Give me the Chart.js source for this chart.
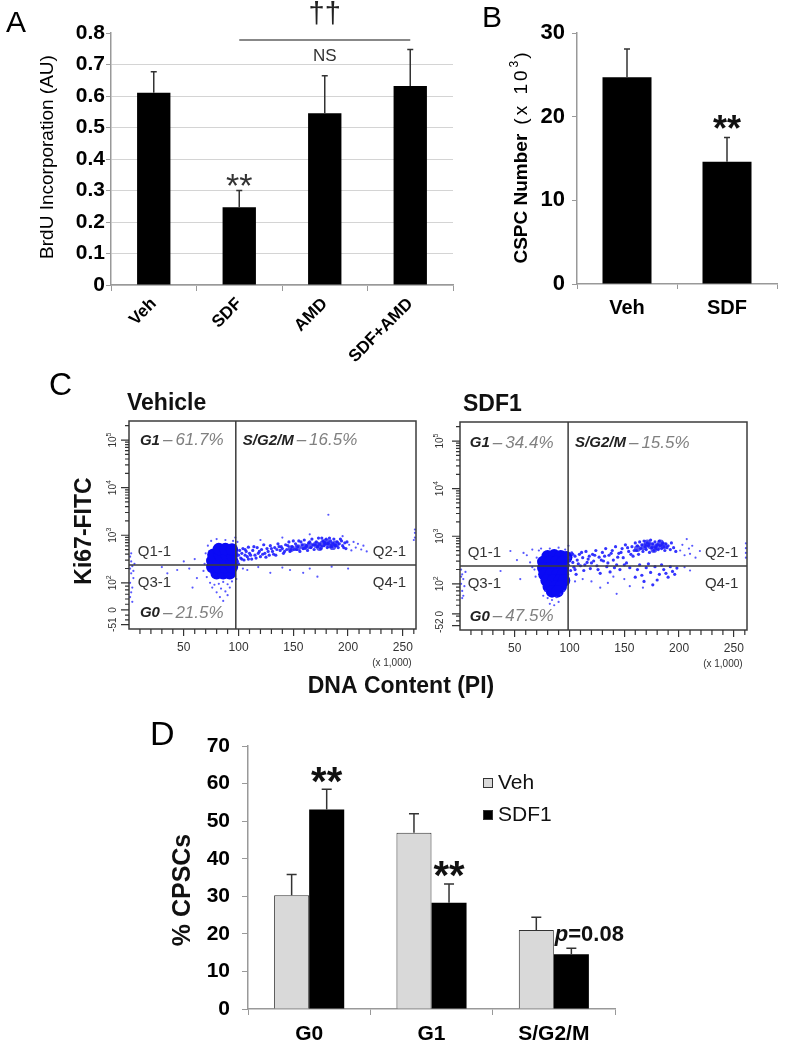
<!DOCTYPE html>
<html><head><meta charset="utf-8">
<script src="https://cdn.jsdelivr.net/npm/chart.js@4.4.1/dist/chart.umd.min.js"></script>
<style>
html,body{margin:0;padding:0;background:#fff;}
#wrap{position:relative;width:787px;height:1048px;overflow:hidden;background:#fff;}
canvas{position:absolute;}
</style></head><body>
<div id="wrap">
<canvas id="cA" width="460" height="385" style="left:0px;top:0px;width:460px;height:385px"></canvas>
<canvas id="cB" width="327" height="330" style="left:460px;top:0px;width:327px;height:330px"></canvas>
<canvas id="cC1" width="500" height="360" style="left:0px;top:340px;width:500px;height:360px"></canvas>
<canvas id="cC2" width="357" height="360" style="left:430px;top:340px;width:357px;height:360px"></canvas>
<canvas id="cD" width="787" height="348" style="left:0px;top:700px;width:787px;height:348px"></canvas>
</div>
<script>
// ---------------- DATA ----------------
const A_categories = ['Veh', 'SDF', 'AMD', 'SDF+AMD'];
const A_values = [0.610, 0.247, 0.545, 0.632];
const A_errors = [0.067, 0.053, 0.119, 0.116];
const A_yTitle = 'BrdU Incorporation (AU)';

const B_categories = ['Veh', 'SDF'];
const B_values = [24.7, 14.6];
const B_errors = [3.4, 2.9];

const D_categories = ['G0', 'G1', 'S/G2/M'];
const D_seriesNames = ['Veh', 'SDF1'];
const D_veh = [30.3, 46.9, 21.0];
const D_vehErr = [5.5, 5.1, 3.4];
const D_sdf = [53.1, 28.3, 14.6];
const D_sdfErr = [5.4, 5.0, 1.6];

// Flow cytometry (x: PI in x1000 units, y: Ki67 axis in decade units of the biexponential display)
const C_xTickLabels = [50, 100, 150, 200, 250];
const C_xMinorTicks = [10,20,30,40,60,70,80,90,110,120,130,140,160,170,180,190,210,220,230,240,260];
const C_yMajorTicks = [2, 3, 4, 5];
const C_yLinearMinor = [1.22, 1.32, 1.55, 1.66, 1.76, 1.85, 1.93];
const C_vehYTickLabels = ['-51', '0', '10^2', '10^3', '10^4', '10^5'];
const C_vehYTickValues = [1.12, 1.43, 2, 3, 4, 5];
const C_sdfYTickLabels = ['-52', '0', '10^2', '10^3', '10^4', '10^5'];
const C_sdfYTickValues = [1.12, 1.37, 2, 3, 4, 5];
const C_vehQuadrants = {G1: '61.7%', SG2M: '16.5%', G0: '21.5%'};
const C_sdfQuadrants = {G1: '34.4%', SG2M: '15.5%', G0: '47.5%'};

const C_vehCore = [[80,2.20],[86,2.20],[92,2.20],[76,2.33],[82,2.33],[88,2.33],[94,2.33],[76,2.46],[82,2.46],[88,2.46],[94,2.46],[77,2.59],[83,2.59],[89,2.59],[94,2.59],[82,2.71],[88,2.71],[94,2.70]];
const C_vehTrailCore = [[148,2.72],[154,2.74],[160,2.76],[165,2.78],[171,2.80],[174,2.74],[177,2.82],[180,2.86],[183,2.80],[186,2.76],[189,2.82]];
const C_vehDense = [[99,2.45],[100,2.58],[101,2.68],[102,2.52],[103,2.62],[104,2.72],[105,2.48],[106,2.58],[107,2.66],[108,2.55],[109,2.75],[110,2.62],
 [112,2.50],[113,2.68],[115,2.58],[117,2.74],[118,2.62],[120,2.55],[121,2.70],[123,2.80],[124,2.62],[126,2.72],[128,2.58],[129,2.78],[131,2.66],[133,2.74],[134,2.58],[136,2.82],[138,2.68],[139,2.76],[141,2.62],[143,2.80],[144,2.70],[146,2.86],[147,2.66],[149,2.76],
 [151,2.70],[152,2.82],[154,2.76],[155,2.88],[156,2.66],[158,2.80],[159,2.72],[160,2.90],[162,2.78],[163,2.68],[164,2.84],[166,2.74],[167,2.92],[168,2.80],[169,2.70],[171,2.86],[172,2.76],[173,2.94],[174,2.82],[175,2.72],[177,2.88],[178,2.78],[179,2.84],[180,2.92],[181,2.74],[182,2.82],[184,2.88],[185,2.76],[186,2.84],[187,2.92],[188,2.80],[190,2.86],[191,2.74],[192,2.82],[194,2.88],[195,2.78],[197,2.84],[198,2.72],
 [100,2.40],[103,2.50],[106,2.70],[109,2.50],[111,2.58],[114,2.76],[116,2.52],[119,2.66],[122,2.60],[125,2.54],[127,2.66],[130,2.72],[132,2.60],[135,2.70],[137,2.76],[140,2.72],[142,2.66],[145,2.78],[148,2.70],[150,2.88],
 [153,2.70],[157,2.86],[161,2.74],[165,2.86],[170,2.80],[176,2.94],[183,2.94],[189,2.78],[193,2.92],[196,2.74],[199,2.86]];
const C_vehSparse = [[201,2.80],[203,2.68],[205,2.86],[207,2.74],[209,2.82],[212,2.70],[214,2.78],[217,2.66],
 [120,2.90],[140,2.95],[165,3.02],[182,3.43],[195,2.98],
 [104,2.30],[108,2.27],[118,2.33],[129,2.21],[140,2.32],[147,2.27],[159,2.21],[165,2.30],[172,2.13],[185,2.34],[200,2.30],
 [70,2.62],[69,2.40],[68,2.25],[71,2.12],[72,2.78],[75,2.88],[80,2.92],[88,2.90],[95,2.88],[97,2.95],[99,2.86],[98,2.08],
 [74,2.00],[78,1.96],[82,1.98],[86,2.02],[90,1.97],[94,2.03],[76,1.90],[84,1.88],[92,1.90],[80,1.80],[88,1.82],[83,1.70],[90,1.74],[86,1.62],
 [55,2.30],[60,2.50],[62,2.10],[44,2.27],[50,2.45],[58,1.90],[30,2.33],[35,2.20],
 [1,2.55],[2,2.45],[3,2.35],[1,2.30],[2,2.20],[4,2.10],[1,2.00],[3,1.90],[2,1.80],[1,1.70],[3,1.60],[5,2.40],[2,2.62],[4,2.25],
 [261,2.95],[261,3.05],[261,3.12],[260,2.90]];

const C_sdfCore = [[80,2.58],[86,2.60],[92,2.58],[97,2.56],[76,2.46],[82,2.46],[88,2.46],[94,2.46],[76,2.33],[82,2.33],[88,2.33],[94,2.33],[77,2.20],[83,2.20],[89,2.20],[94,2.20],[79,2.07],[85,2.07],[91,2.07],[95,2.07],[81,1.94],[87,1.94],[92,1.94],[84,1.84],[89,1.84]];
const C_sdfTrailCore = [[162,2.74],[168,2.78],[171,2.86],[174,2.80],[177,2.72],[180,2.78],[183,2.86],[186,2.80]];
const C_sdfDense = [[99,2.40],[100,2.55],[101,2.28],[102,2.65],[103,2.45],[104,2.35],[105,2.58],[106,2.20],[107,2.50],[109,2.62],[110,2.38],[112,2.55],[113,2.28],[115,2.68],[116,2.45],[118,2.58],[119,2.32],[121,2.62],[122,2.48],[124,2.70],[125,2.38],[127,2.56],[128,2.22],[130,2.66],
 [131,2.48],[133,2.74],[134,2.36],[136,2.60],[137,2.25],[139,2.70],[140,2.50],[142,2.78],[143,2.40],[145,2.64],[146,2.30],[148,2.74],[149,2.55],[151,2.82],[152,2.44],[154,2.68],[155,2.34],[157,2.78],[158,2.58],[160,2.86],
 [161,2.70],[162,2.80],[163,2.62],[164,2.88],[165,2.74],[166,2.82],[167,2.68],[168,2.90],[169,2.78],[170,2.72],[171,2.86],[172,2.80],[173,2.66],[174,2.92],[175,2.76],[176,2.84],[177,2.70],[178,2.88],[179,2.78],[180,2.82],[181,2.72],[182,2.90],[183,2.80],[184,2.74],[185,2.86],[186,2.78],[187,2.70],[188,2.84],[189,2.76],[190,2.80],[192,2.72],[193,2.86],[195,2.76],[197,2.68],
 [162,2.30],[166,2.18],[170,2.34],[174,2.24],[178,2.36],[182,2.20],[186,2.30],[190,2.14],[194,2.26],[198,2.33],[168,2.05],[180,2.08],[176,1.98],
 [100,2.48],[103,2.62],[105,2.30],[108,2.42],[111,2.66],[114,2.40],[117,2.52],[120,2.44],[123,2.60],[126,2.30],[129,2.50],[132,2.58],[135,2.44],[138,2.64],[141,2.34],[144,2.56],[147,2.66],[150,2.40],[153,2.76],[156,2.62],[159,2.70],
 [164,2.40],[172,2.42],[184,2.40],[192,2.36],[196,2.20],[188,2.22],[160,2.14]];
const C_sdfSparse = [[201,2.70],[203,2.82],[205,2.60],[207,2.94],[209,2.74],[210,2.63],[212,2.80],[215,2.55],[219,2.69],[205,2.35],[210,2.28],
 [128,1.92],[143,1.79],[167,1.92],[120,2.05],[135,2.02],[150,2.10],[155,1.95],[140,2.15],[112,2.10],[105,2.05],
 [61,2.60],[64,2.45],[66,2.72],[68,2.30],[70,2.55],[69,2.15],[72,2.70],[66,2.35],[74,2.74],
 [46,2.69],[37,2.27],[52,2.50],[55,2.10],[58,2.65],
 [76,1.75],[80,1.70],[84,1.66],[88,1.72],[92,1.78],[82,1.58],[86,1.55],[90,1.62],[78,1.85],[95,1.85],
 [82,2.74],[90,2.76],[96,2.72],[99,2.80],
 [1,2.30],[2,2.20],[3,2.10],[1,2.00],[4,1.95],[2,1.85],[3,1.75],[5,2.25],[1,2.15],[2,1.70],
 [261,2.55],[261,2.65],[261,2.75],[261,2.85]];

// ---------------- HELPERS ----------------
const LS = '"Liberation Sans", Arial, sans-serif';
function F(size, weight, style){ return (style||'normal') + ' ' + (weight||'normal') + ' ' + size + 'px ' + LS; }
function drawRuns(ctx, runs, x, y, align){
  const widths = runs.map(r => { if (r.gap !== undefined) return r.gap; ctx.font = r.font; ctx.letterSpacing = r.ls || '0px'; return ctx.measureText(r.t).width; });
  const total = widths.reduce((a,b)=>a+b,0);
  let cx = align === 'right' ? x - total : align === 'center' ? x - total/2 : x;
  ctx.textAlign = 'left';
  runs.forEach((r,i)=>{
    if (r.gap === undefined){ ctx.font = r.font; ctx.letterSpacing = r.ls || '0px'; ctx.fillStyle = r.color || '#000'; ctx.fillText(r.t, cx, y + (r.dy||0)); }
    cx += widths[i];
  });
  ctx.letterSpacing = '0px';
}
function rotText(ctx, fn, cx, cy){ ctx.save(); ctx.translate(cx, cy); ctx.rotate(-Math.PI/2); fn(); ctx.restore(); }
const toXY = arr => arr.map(p => ({x:p[0], y:p[1]}));

const errorBars = {
  id:'errorBars',
  afterDatasetsDraw(chart, args, o){
    const ctx = chart.ctx, ys = chart.scales.y;
    chart.data.datasets.forEach((ds, di)=>{
      if (!ds.errors) return;
      const meta = chart.getDatasetMeta(di);
      meta.data.forEach((bar, i)=>{
        const yt = ys.getPixelForValue(ds.data[i] + ds.errors[i]);
        ctx.save(); ctx.strokeStyle = o.color; ctx.lineWidth = o.width;
        ctx.beginPath(); ctx.moveTo(bar.x, bar.y); ctx.lineTo(bar.x, yt);
        ctx.moveTo(bar.x - o.cap, yt); ctx.lineTo(bar.x + o.cap, yt); ctx.stroke(); ctx.restore();
      });
    });
  }
};

const baseOpts = { animation:false, responsive:false, devicePixelRatio:1, events:[] };

// ---------------- PANEL A ----------------
new Chart(document.getElementById('cA'), {
  type:'bar',
  data:{ labels:A_categories, datasets:[{ data:A_values, errors:A_errors, backgroundColor:'#000', categoryPercentage:1, barPercentage:0.39 }]},
  options:Object.assign({}, baseOpts, {
    layout:{padding:{left:0, right:7, top:33, bottom:0}},
    plugins:{legend:{display:false}, tooltip:{enabled:false}, errorBars:{color:'#333', width:1.5, cap:3}},
    scales:{
      x:{ grid:{display:true, drawOnChartArea:false, offset:true, color:'#999', tickLength:6}, border:{display:true, color:'#999', width:1.5},
          ticks:{font:{family:LS, size:17, weight:'bold'}, color:'#000', minRotation:45, maxRotation:45, padding:3, autoSkip:false},
          afterFit(s){ s.height = 100; } },
      y:{ min:0, max:0.8, grid:{color:(c)=> (c.tick && Math.abs(c.tick.value-0.8)<1e-6) ? 'rgba(0,0,0,0)' : '#d4d4d4', tickColor:'#999', tickLength:5, lineWidth:1},
          border:{display:true, color:'#999', width:1.5},
          ticks:{stepSize:0.1, font:{family:LS, size:21, weight:'bold'}, color:'#000', padding:1, callback:(v)=> (Math.round(v*10)/10).toString()},
          afterFit(s){ s.width = 111; } }
    }
  }),
  plugins:[errorBars, {
    id:'annA',
    afterDraw(chart){
      const {ctx, scales:{y}} = chart; const meta = chart.getDatasetMeta(0);
      ctx.save();
      ctx.fillStyle = '#000'; ctx.textBaseline = 'alphabetic'; ctx.textAlign = 'left';
      ctx.font = F(30); ctx.fillText('A', 6, 32);
      rotText(ctx, ()=>{ ctx.font = F(19); ctx.textAlign='center'; ctx.textBaseline='middle'; ctx.fillStyle='#000'; ctx.fillText(A_yTitle, 0, 0); }, 48, 157);
      // ** above SDF
      const s = meta.data[1]; const et = y.getPixelForValue(A_values[1] + A_errors[1]);
      ctx.font = F(34); ctx.fillStyle = '#333'; ctx.textAlign = 'center'; ctx.textBaseline = 'alphabetic';
      ctx.fillText('**', s.x, et - 12.5 + 0.57*34);
      // significance bracket
      const x1 = meta.data[1].x, x2 = meta.data[3].x, ly = y.getPixelForValue(0.778);
      ctx.strokeStyle = '#888'; ctx.lineWidth = 2; ctx.beginPath(); ctx.moveTo(x1, ly); ctx.lineTo(x2, ly); ctx.stroke();
      ctx.fillStyle = '#222'; ctx.font = F(29); ctx.fillText('\u2020\u2020', (x1+x2)/2, ly - 17);
      ctx.fillStyle = '#333'; ctx.font = F(17); ctx.fillText('NS', (x1+x2)/2, ly + 21);
      ctx.restore();
    }
  }]
});

// ---------------- PANEL B ----------------
new Chart(document.getElementById('cB'), {
  type:'bar',
  data:{ labels:B_categories, datasets:[{ data:B_values, errors:B_errors, backgroundColor:'#000', categoryPercentage:1, barPercentage:0.49 }]},
  options:Object.assign({}, baseOpts, {
    layout:{padding:{left:0, right:10, top:33, bottom:0}},
    plugins:{legend:{display:false}, tooltip:{enabled:false}, errorBars:{color:'#333', width:1.5, cap:3}},
    scales:{
      x:{ grid:{display:true, drawOnChartArea:false, offset:true, color:'#999', tickLength:5}, border:{display:true, color:'#999', width:1.5},
          ticks:{font:{family:LS, size:20, weight:'bold'}, color:'#000', padding:7, maxRotation:0},
          afterFit(s){ s.height = 46; } },
      y:{ min:0, max:30, grid:{display:true, drawOnChartArea:false, color:'#999', tickLength:5}, border:{display:true, color:'#999', width:1.5},
          ticks:{stepSize:10, font:{family:LS, size:22, weight:'bold'}, color:'#000', padding:7},
          afterFit(s){ s.width = 117; } }
    }
  }),
  plugins:[errorBars, {
    id:'annB',
    afterDraw(chart){
      const {ctx, scales:{y}} = chart; const meta = chart.getDatasetMeta(0);
      ctx.save();
      ctx.fillStyle='#000'; ctx.textBaseline='alphabetic'; ctx.textAlign='left'; ctx.font=F(30); ctx.fillText('B', 22, 27);
      rotText(ctx, ()=>{
        ctx.textBaseline='middle';
        drawRuns(ctx, [
          {t:'CSPC Number', font:F(19,'bold'), color:'#000'}, {gap:9},
          {t:'(x 10', font:F(19), color:'#000', ls:'3px'},
          {t:'3', font:F(12), color:'#000', dy:-7}, {gap:2},
          {t:')', font:F(19), color:'#000'}
        ], 0, 0, 'center');
      }, 62, 158);
      const s = meta.data[1]; const et = y.getPixelForValue(B_values[1] + B_errors[1]);
      ctx.font = F(36,'bold'); ctx.fillStyle='#111'; ctx.textAlign='center'; ctx.textBaseline='alphabetic';
      ctx.fillText('**', s.x, et - 17.5 + 0.57*36);
      ctx.restore();
    }
  }]
});

// ---------------- PANEL C ----------------
function drawRotTick(ctx, label, cx, cy){
  rotText(ctx, ()=>{
    const parts = label.split('^');
    ctx.textBaseline='middle'; ctx.textAlign='left'; ctx.fillStyle='#333';
    ctx.font = F(10); const wb = ctx.measureText(parts[0]).width;
    let we = 0; if (parts[1]) { ctx.font = F(7); we = ctx.measureText(parts[1]).width; }
    const x0 = -(wb+we)/2;
    ctx.font = F(10); ctx.fillText(parts[0], x0, 0);
    if (parts[1]) { ctx.font = F(7); ctx.fillText(parts[1], x0+wb, -4); }
  }, cx, cy);
}
const flowPlugin = {
  id:'flow',
  afterDatasetsDraw(chart, args, o){
    const {ctx, chartArea:ca, scales:{x, y}} = chart;
    ctx.save();
    ctx.strokeStyle = '#3c3c3c'; ctx.lineWidth = 1.5;
    ctx.strokeRect(ca.left, ca.top, ca.right-ca.left, ca.bottom-ca.top);
    const vx = x.getPixelForValue(o.gateX), hy = y.getPixelForValue(o.gateY);
    ctx.beginPath(); ctx.moveTo(vx, ca.top); ctx.lineTo(vx, ca.bottom); ctx.moveTo(ca.left, hy); ctx.lineTo(ca.right, hy); ctx.stroke();
    // ticks
    ctx.lineWidth = 1.2; ctx.strokeStyle = '#333'; ctx.beginPath();
    C_xMinorTicks.forEach(v => { const p = x.getPixelForValue(v); ctx.moveTo(p, ca.bottom); ctx.lineTo(p, ca.bottom + 5); });
    C_yMajorTicks.forEach(v => { const p = y.getPixelForValue(v); ctx.moveTo(ca.left - 8, p); ctx.lineTo(ca.left, p); });
    o.yLabelValues.slice(0,2).forEach(v => { const p = y.getPixelForValue(v); ctx.moveTo(ca.left - 8, p); ctx.lineTo(ca.left, p); });
    C_yMajorTicks.forEach(d => { [2,3,4,5,6,7,8,9].forEach(k => { const v = d + Math.log10(k); if (v <= y.max) { const p = y.getPixelForValue(v); ctx.moveTo(ca.left - 4, p); ctx.lineTo(ca.left, p); } }); });
    C_yLinearMinor.forEach(v => { const p = y.getPixelForValue(v); ctx.moveTo(ca.left - 4, p); ctx.lineTo(ca.left, p); });
    ctx.stroke();
    o.yLabels.forEach((lab, i) => drawRotTick(ctx, lab, ca.left - o.yLabelOffset, y.getPixelForValue(o.yLabelValues[i])));
    // (x 1,000)
    ctx.fillStyle = '#333'; ctx.font = F(10); ctx.textAlign = 'center'; ctx.textBaseline = 'middle';
    ctx.fillText('(x 1,000)', x.getPixelForValue(240), ca.bottom + 34);
    // quadrant labels
    ctx.textBaseline = 'middle';
    const q = o.quad;
    const gl = o.qLeft, gr = o.qRight;
    drawRuns(ctx, [{t:'G1', font:F(15,'bold','italic'), color:'#222'}, {gap:3}, {t:'\u2013', font:F(17,'normal','italic'), color:'#808080'}, {gap:3}, {t:q.G1, font:F(17,'normal','italic'), color:'#808080'}], x.getPixelForValue(gl), y.getPixelForValue(o.qTop));
    drawRuns(ctx, [{t:'S/G2/M', font:F(15,'bold','italic'), color:'#222'}, {gap:3}, {t:'\u2013', font:F(17,'normal','italic'), color:'#808080'}, {gap:3}, {t:q.SG2M, font:F(17,'normal','italic'), color:'#808080'}], vx + 7, y.getPixelForValue(o.qTop));
    drawRuns(ctx, [{t:'G0', font:F(15,'bold','italic'), color:'#222'}, {gap:3}, {t:'\u2013', font:F(17,'normal','italic'), color:'#808080'}, {gap:3}, {t:q.G0, font:F(17,'normal','italic'), color:'#808080'}], x.getPixelForValue(gl), y.getPixelForValue(o.qBottom));
    const qf = F(15);
    drawRuns(ctx, [{t:'Q1-1', font:qf, color:'#333'}], x.getPixelForValue(gl - 2), y.getPixelForValue(2.656));
    drawRuns(ctx, [{t:'Q3-1', font:qf, color:'#333'}], x.getPixelForValue(gl - 2), y.getPixelForValue(2.0));
    drawRuns(ctx, [{t:'Q2-1', font:qf, color:'#333'}], x.getPixelForValue(gr), y.getPixelForValue(2.656), 'right');
    drawRuns(ctx, [{t:'Q4-1', font:qf, color:'#333'}], x.getPixelForValue(gr), y.getPixelForValue(2.0), 'right');
    // title
    drawRuns(ctx, [{t:o.title, font:F(23,'bold'), color:'#111'}], ca.left + o.titleDx, ca.top - 17);
    if (o.extra) o.extra(chart);
    ctx.restore();
  }
};
function flowChart(id, core, trailCore, dense, sparse, pad, yw, xh, opts){
  return new Chart(document.getElementById(id), {
    type:'scatter',
    data:{ datasets:[
      { data:toXY(sparse), pointRadius:1.1, backgroundColor:'rgba(45,45,255,0.8)', borderWidth:0 },
      { data:toXY(dense), pointRadius:1.6, backgroundColor:'rgba(30,30,255,0.9)', borderWidth:0 },
      { data:toXY(trailCore), pointRadius:3.4, backgroundColor:'rgba(25,25,240,0.75)', borderWidth:0 },
      { data:toXY(core), pointRadius:6.2, backgroundColor:'#0a0af5', borderWidth:0 }
    ]},
    options:Object.assign({}, baseOpts, {
      layout:{padding:pad},
      plugins:{legend:{display:false}, tooltip:{enabled:false}, flow:opts},
      scales:{
        x:{ type:'linear', min:0, max:262,
            afterBuildTicks(s){ s.ticks = C_xTickLabels.map(v => ({value:v})); },
            grid:{display:true, drawOnChartArea:false, color:'#333', tickLength:7, lineWidth:1.2}, border:{display:false},
            ticks:{font:{family:LS, size:12}, color:'#333', padding:4, maxRotation:0, autoSkip:false},
            afterFit(s){ s.height = xh; } },
        y:{ type:'linear', min:1.03, max:5.4, grid:{display:false}, border:{display:false}, ticks:{display:false},
            afterFit(s){ s.width = yw; } }
      }
    }),
    plugins:[flowPlugin]
  });
}
flowChart('cC1', C_vehCore, C_vehTrailCore, C_vehDense, C_vehSparse, {left:0, right:84, top:81, bottom:0}, 129, 71, {
  gateX:97.5, gateY:2.377, yLabels:C_vehYTickLabels, yLabelValues:C_vehYTickValues, yLabelOffset:16,
  quad:C_vehQuadrants, qLeft:10, qRight:253, qTop:4.99, qBottom:1.36, title:'Vehicle', titleDx:-2,
  extra(chart){
    const ctx = chart.ctx;
    ctx.fillStyle = '#000'; ctx.textAlign = 'left'; ctx.textBaseline = 'alphabetic'; ctx.font = F(32);
    ctx.fillText('C', 49, 55);
    rotText(ctx, ()=>{ ctx.font = F(23,'bold'); ctx.textAlign='center'; ctx.textBaseline='middle'; ctx.fillStyle='#111'; ctx.fillText('Ki67-FITC', 0, 0); }, 85, 191);
    ctx.font = F(23,'bold'); ctx.textAlign='center'; ctx.textBaseline='middle'; ctx.fillStyle='#111';
    ctx.fillText('DNA Content (PI)', 401, 347);
  }
});
flowChart('cC2', C_sdfCore, C_sdfTrailCore, C_sdfDense, C_sdfSparse, {left:0, right:40, top:82, bottom:0}, 30, 70, {
  gateX:98.7, gateY:2.377, yLabels:C_sdfYTickLabels, yLabelValues:C_sdfYTickValues, yLabelOffset:20,
  quad:C_sdfQuadrants, qLeft:9, qRight:254, qTop:4.96, qBottom:1.31, title:'SDF1', titleDx:3
});

// ---------------- PANEL D ----------------
new Chart(document.getElementById('cD'), {
  type:'bar',
  data:{ labels:D_categories, datasets:[
    { label:D_seriesNames[0], data:D_veh, errors:D_vehErr, backgroundColor:'#d9d9d9', borderColor:'#333', borderWidth:1, borderSkipped:'bottom', categoryPercentage:0.573, barPercentage:1 },
    { label:D_seriesNames[1], data:D_sdf, errors:D_sdfErr, backgroundColor:'#000', borderColor:'#000', borderWidth:0, categoryPercentage:0.573, barPercentage:1 }
  ]},
  options:Object.assign({}, baseOpts, {
    layout:{padding:{left:0, right:172, top:46, bottom:0}},
    plugins:{legend:{display:false}, tooltip:{enabled:false}, errorBars:{color:'#333', width:1.5, cap:5}},
    scales:{
      x:{ grid:{display:true, drawOnChartArea:false, offset:true, color:'#999', tickLength:6}, border:{display:true, color:'#999', width:1.5},
          ticks:{font:{family:LS, size:21, weight:'bold'}, color:'#000', padding:7, maxRotation:0},
          afterFit(s){ s.height = 39; } },
      y:{ min:0, max:70, grid:{display:true, drawOnChartArea:false, color:'#999', tickLength:6}, border:{display:true, color:'#999', width:1.5},
          ticks:{stepSize:10, font:{family:LS, size:21, weight:'bold'}, color:'#000', padding:12},
          afterFit(s){ s.width = 248; } }
    }
  }),
  plugins:[errorBars, {
    id:'annD',
    afterDraw(chart){
      const {ctx, scales:{y}} = chart;
      const m1 = chart.getDatasetMeta(1);
      ctx.save();
      ctx.fillStyle='#000'; ctx.textAlign='left'; ctx.textBaseline='alphabetic'; ctx.font=F(34); ctx.fillText('D', 150, 45);
      rotText(ctx, ()=>{ ctx.font=F(25,'bold'); ctx.textAlign='center'; ctx.textBaseline='middle'; ctx.fillStyle='#111'; ctx.fillText('% CPSCs', 0, 0); }, 183, 190);
      // legend
      const ds = chart.data.datasets;
      [[78, 83], [110, 115]].forEach((p, i) => {
        ctx.fillStyle = ds[i].backgroundColor; ctx.fillRect(483, p[0], 10, 10);
        ctx.strokeStyle = '#333'; ctx.lineWidth = 1; ctx.strokeRect(483.5, p[0]+0.5, 9, 9);
        ctx.fillStyle = '#111'; ctx.font = F(21); ctx.textAlign='left'; ctx.textBaseline='middle'; ctx.fillText(ds[i].label, 498, p[1]);
      });
      // significance
      ctx.font = F(40,'bold'); ctx.fillStyle='#111'; ctx.textAlign='center'; ctx.textBaseline='alphabetic';
      [0,1].forEach(i => { const b = m1.data[i]; const et = y.getPixelForValue(D_sdf[i] + D_sdfErr[i]); ctx.fillText('**', b.x, et - 17.5 + 0.57*40); });
      const b2 = m1.data[2]; const et2 = y.getPixelForValue(D_sdf[2] + D_sdfErr[2]);
      drawRuns(ctx, [{t:'p', font:F(22,'bold','italic'), color:'#111'}, {t:'=0.08', font:F(22,'bold'), color:'#111'}], b2.x - b2.width/2 + 1, et2 - 15 + 8);
      ctx.restore();
    }
  }]
});
</script>
</body></html>
